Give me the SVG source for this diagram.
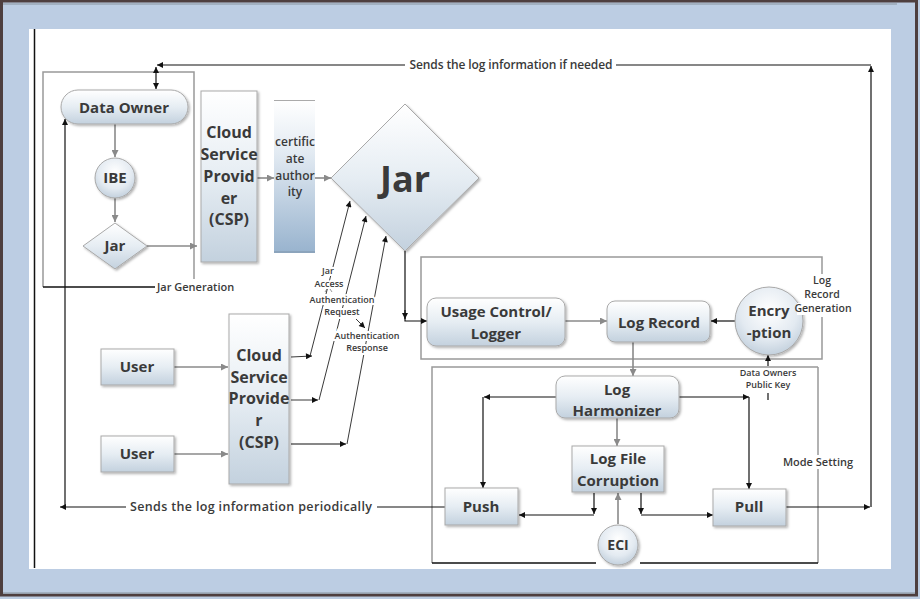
<svg xmlns="http://www.w3.org/2000/svg" width="920" height="599" viewBox="0 0 920 599">
<defs>
<linearGradient id="g1" x1="0" y1="0" x2="0" y2="1"><stop offset="0" stop-color="#ffffff"/><stop offset="0.5" stop-color="#e6edf3"/><stop offset="1" stop-color="#c3d1de"/></linearGradient>
<linearGradient id="g2" x1="0" y1="0" x2="0" y2="1"><stop offset="0" stop-color="#ffffff"/><stop offset="0.35" stop-color="#e2eaf2"/><stop offset="1" stop-color="#98b3ce"/></linearGradient>
<radialGradient id="g3" cx="0.5" cy="0.35" r="0.7"><stop offset="0" stop-color="#ffffff"/><stop offset="0.6" stop-color="#e3eaf1"/><stop offset="1" stop-color="#bccbd9"/></radialGradient>
<filter id="sh" x="-20%" y="-20%" width="140%" height="140%"><feDropShadow dx="1.5" dy="1.5" stdDeviation="1" flood-color="#000" flood-opacity="0.3"/></filter>
<marker id="ab" viewBox="0 0 10 10" refX="10" refY="5" markerWidth="8" markerHeight="6" orient="auto-start-reverse" markerUnits="userSpaceOnUse"><path d="M0,0 L10,5 L0,10 z" fill="#111"/></marker>
<marker id="ag" viewBox="0 0 10 10" refX="10" refY="5" markerWidth="9" markerHeight="7" orient="auto" markerUnits="userSpaceOnUse"><path d="M0,0 L10,5 L0,10 z" fill="#8a8a8a"/></marker>
<style>
.n{fill:url(#g1);stroke:#a9a9a9;stroke-width:1;filter:url(#sh)}
.t{font-family:"Open Sans","Noto Sans",sans-serif;font-weight:bold;fill:#3a3a3a;text-anchor:middle}
.t15{font-size:15px}
.t16{font-size:16px}
.s{font-family:"Open Sans","Noto Sans",sans-serif;fill:#3a3a3a;text-anchor:middle;font-weight:600}
.w{stroke:#fff;stroke-width:4;paint-order:stroke}
.bg{fill:#fff}
.k{fill:none;stroke:#111;stroke-width:1.2}
.kt{fill:none;stroke:#222;stroke-width:0.9}
.gr{fill:none;stroke:#8a8a8a;stroke-width:1.6}
.bx{fill:none;stroke:#999;stroke-width:1.5}
</style>
</defs>

<!-- frame -->
<rect x="0" y="0" width="920" height="599" fill="#bccde3"/>
<rect x="1.5" y="1" width="915" height="594" fill="none" stroke="#4e3f3f" stroke-width="3"/>
<line x1="3" y1="4" x2="897" y2="4" stroke="#9aa6b4" stroke-width="1.5"/>
<line x1="3" y1="593" x2="915" y2="593" stroke="#9aa6b4" stroke-width="1.5"/>
<rect x="29" y="29" width="862" height="540" fill="#ffffff"/>
<line x1="34.5" y1="29" x2="34.5" y2="568" stroke="#111" stroke-width="1.5"/>

<!-- boundary boxes -->
<g id="box-jar-generation">
<path class="bx" d="M43,287 V72 H194 V279"/>
<path d="M43,287 H155" stroke="#111" stroke-width="1.5" fill="none"/>
<text class="s" x="157" y="291" font-size="11" style="text-anchor:start">Jar Generation</text>
</g>
<g id="box-log-record-generation">
<path class="bx" d="M822,274 V257 H421 V359 H822 V317"/>
</g>
<g id="box-mode-setting">
<path class="bx" d="M818,367 H432 V563 M818,367 V563"/>
<path d="M432,563 H596 M640,563 H818" stroke="#111" stroke-width="1.5" fill="none"/>
</g>

<!-- connectors -->
<g id="connectors">
<path class="k" d="M786,507 H870" marker-end="url(#ab)"/>
<path class="k" d="M871,507 V66" marker-end="url(#ab)"/>
<path class="k" d="M871,65 H157" marker-end="url(#ab)"/>
<path class="k" d="M156,67 V89" marker-start="url(#ab)" marker-end="url(#ab)"/>
<path class="k" d="M445,507 H60" marker-end="url(#ab)"/>
<path class="k" d="M65,507 V119" marker-end="url(#ab)"/>
<path class="k" d="M405,251 V321 H427" marker-end="url(#ab)"/>
<path class="k" d="M405,310 V319" marker-end="url(#ab)"/>
<path class="k" d="M735,321 H711" marker-end="url(#ab)"/>
<path class="k" d="M768,366 V355" marker-end="url(#ab)"/>
<path class="k" d="M768,393 V400"/>
<path class="k" d="M556,397 H484" marker-end="url(#ab)"/>
<path class="k" d="M483,397 V488" marker-end="url(#ab)"/>
<path class="k" d="M679,397 H749" marker-end="url(#ab)"/>
<path class="k" d="M749,397 V489" marker-end="url(#ab)"/>
<path class="k" d="M594,493 V514" marker-end="url(#ab)"/>
<path class="k" d="M594,515 H519" marker-end="url(#ab)"/>
<path class="k" d="M641,493 V514" marker-end="url(#ab)"/>
<path class="k" d="M641,515 H713" marker-end="url(#ab)"/>
<path class="kt" d="M291,357 L312,356" marker-end="url(#ab)"/>
<path class="kt" d="M310,356 L350,201" marker-end="url(#ab)"/>
<path class="kt" d="M291,400 H318" marker-end="url(#ab)"/>
<path class="kt" d="M319,400 L366,216" marker-end="url(#ab)"/>
<path class="k" d="M291,444 H346" marker-end="url(#ab)"/>
<path class="kt" d="M347,444 L386,236" marker-end="url(#ab)"/>
<path class="kt" d="M356,319 L365,328" marker-end="url(#ab)"/>
<path class="gr" d="M115,124 V157" marker-end="url(#ag)"/>
<path class="gr" d="M115,198 V222" marker-end="url(#ag)"/>
<path class="gr" d="M147,246 H197" marker-end="url(#ag)"/>
<path class="gr" d="M257,178 H274" marker-end="url(#ag)"/>
<path class="gr" d="M315,178 H331" marker-end="url(#ag)"/>
<path class="gr" d="M174,367 H228" marker-end="url(#ag)"/>
<path class="gr" d="M174,454 H228" marker-end="url(#ag)"/>
<path class="gr" d="M565,321 H607" marker-end="url(#ag)"/>
<path class="gr" d="M633,342 V376" marker-end="url(#ag)"/>
<path class="gr" d="M617,418 V446" marker-end="url(#ag)"/>
<path class="gr" d="M618,524 V493" marker-end="url(#ag)"/>
</g>

<!-- connector labels -->
<g id="labels">
<rect class="bg" x="405" y="57" width="211" height="15"/>
<text class="s" x="511" y="69" font-size="12" textLength="203">Sends the log information if needed</text>
<rect class="bg" x="126" y="499" width="251" height="16"/>
<text class="s" x="251" y="511" font-size="12.5" textLength="242">Sends the log information periodically</text>
<text class="s w" x="328" y="274" font-size="9" font-weight="normal">Jar</text>
<text class="s w" x="329" y="287" font-size="9" font-weight="normal">Access</text>
<path d="M325,292 L327,289 M330,289 L332,292" stroke="#555" stroke-width="0.6" fill="none"/>
<text class="s w" x="342" y="303" font-size="9" font-weight="normal">Authentication</text>
<text class="s w" x="342" y="315" font-size="9" font-weight="normal">Request</text>
<text class="s w" x="367" y="339" font-size="9" font-weight="normal">Authentication</text>
<text class="s w" x="367" y="351" font-size="9" font-weight="normal">Response</text>
<text class="s" x="768" y="376" font-size="9" font-weight="normal">Data Owners</text>
<text class="s" x="768" y="388" font-size="9" font-weight="normal">Public Key</text>
<rect class="bg" x="782" y="455" width="72" height="14"/>
<text class="s" x="818" y="466" font-size="11" font-weight="normal">Mode Setting</text>
</g>

<!-- nodes -->
<g id="data-owner"><rect class="n" x="61" y="90" width="127" height="34" rx="17"/><text class="t t15" x="124" y="113">Data Owner</text></g>
<g id="ibe"><circle class="n" cx="115" cy="178" r="20" style="fill:url(#g3)"/><text class="t t15" x="115" y="183">IBE</text></g>
<g id="jar-small"><path class="n" d="M115,223 L147,246 L115,269 L83,246 Z"/><text class="t t15" x="115" y="251">Jar</text></g>
<g id="csp-top"><rect class="n" x="201" y="91" width="56" height="171"/>
<text class="t t16" x="229" y="138">Cloud</text><text class="t t16" x="229" y="160">Service</text><text class="t t16" x="229" y="182">Provid</text><text class="t t16" x="229" y="204">er</text><text class="t t16" x="229" y="225">(CSP)</text></g>
<g id="certificate-authority"><rect x="274" y="100" width="41" height="153" fill="url(#g2)"/><line x1="274" y1="100.5" x2="315" y2="100.5" stroke="#aaa"/><line x1="274" y1="252" x2="315" y2="252" stroke="#8ca4bc" stroke-width="2"/>
<text class="s" x="295" y="146" font-size="12">certific</text><text class="s" x="295" y="163" font-size="12">ate</text><text class="s" x="295" y="180" font-size="12">author</text><text class="s" x="295" y="196" font-size="12">ity</text></g>
<g id="jar-main"><path class="n" d="M405,104 L479,178 L405,251 L331,178 Z"/><text class="t" x="405" y="192" font-size="36">Jar</text></g>
<g id="user-1"><rect class="n" x="101" y="349" width="73" height="36"/><text class="t t15" x="137" y="372">User</text></g>
<g id="user-2"><rect class="n" x="101" y="436" width="73" height="36"/><text class="t t15" x="137" y="459">User</text></g>
<g id="csp-bottom"><rect class="n" x="229" y="314" width="60" height="170"/>
<text class="t t16" x="259" y="361">Cloud</text><text class="t t16" x="259" y="383">Service</text><text class="t t16" x="259" y="404">Provide</text><text class="t t16" x="259" y="426">r</text><text class="t t16" x="259" y="448">(CSP)</text></g>
<g id="usage-control"><rect class="n" x="427" y="298" width="138" height="48" rx="9"/><text class="t t15" x="496" y="317">Usage Control/</text><text class="t t15" x="496" y="339">Logger</text></g>
<g id="log-record"><rect class="n" x="607" y="301" width="103" height="41" rx="8"/><text class="t t15" x="659" y="328">Log Record</text></g>
<g id="encryption"><circle class="n" cx="769" cy="321" r="34" style="fill:url(#g3)"/><text class="t t15" x="769" y="316">Encry</text><text class="t t15" x="769" y="338">-ption</text></g>
<g id="log-record-generation-label">
<text class="s" x="822" y="284" font-size="10.5" font-weight="normal">Log</text>
<text class="s" x="822" y="298" font-size="10.5" font-weight="normal">Record</text>
<rect x="797" y="303" width="54" height="12" fill="#fff"/>
<text class="s" x="823" y="312" font-size="10.5" font-weight="normal">Generation</text>
</g>
<g id="log-harmonizer"><rect class="n" x="556" y="376" width="123" height="42" rx="9"/><text class="t t15" x="617" y="395">Log</text><text class="t t15" x="617" y="416">Harmonizer</text></g>
<g id="log-file-corruption"><rect class="n" x="572" y="446" width="92" height="46"/><text class="t t15" x="618" y="464">Log File</text><text class="t t15" x="618" y="486">Corruption</text></g>
<g id="push"><rect class="n" x="445" y="488" width="73" height="37"/><text class="t t15" x="481" y="512">Push</text></g>
<g id="pull"><rect class="n" x="713" y="489" width="73" height="37"/><text class="t t15" x="749" y="512">Pull</text></g>
<g id="eci"><circle class="n" cx="618" cy="545" r="20" style="fill:url(#g3)"/><text class="t" x="618" y="550" font-size="14">ECI</text></g>
</svg>
